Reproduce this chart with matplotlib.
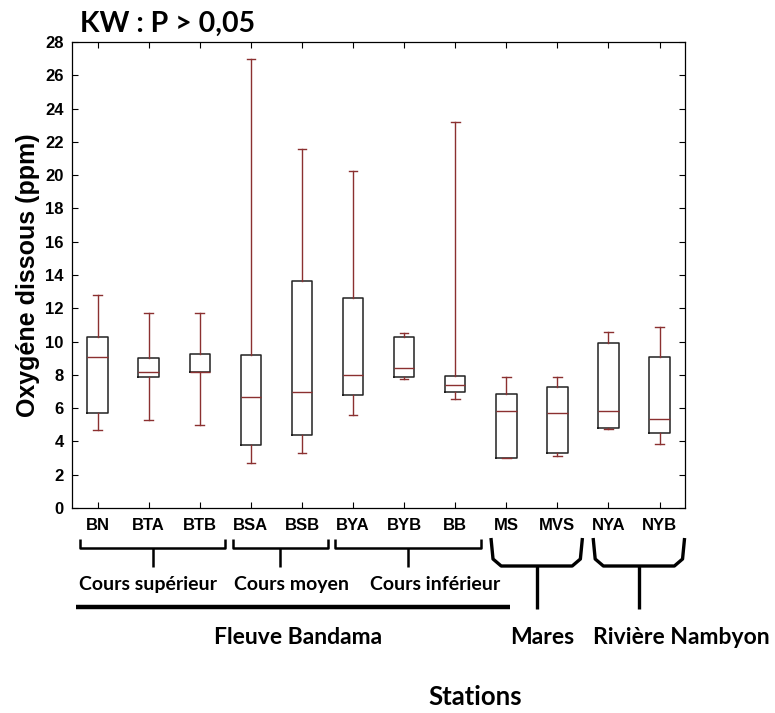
import matplotlib
matplotlib.use("Agg")
import matplotlib.pyplot as plt
import matplotlib.transforms as mtransforms

# ── Data ──────────────────────────────────────────────────────────────────────
stations = ["BN", "BTA", "BTB", "BSA", "BSB", "BYA", "BYB", "BB",
            "MS", "MVS", "NYA", "NYB"]
whisk_lo = [4.7, 5.3, 5.0, 2.7, 3.3, 5.6, 7.75, 6.55, 3.0, 3.15, 4.75, 3.85]
q1       = [5.7, 7.9, 8.15, 3.8, 4.4, 6.8, 7.85, 6.95, 3.0, 3.3, 4.8, 4.5]
median   = [9.05, 8.2, 8.15, 6.65, 6.95, 8.0, 8.4, 7.4, 5.85, 5.7, 5.8, 5.35]
q3       = [10.3, 9.0, 9.25, 9.2, 13.65, 12.65, 10.25, 7.95, 6.85, 7.3, 9.9, 9.05]
whisk_hi = [12.8, 11.7, 11.7, 27.0, 21.6, 20.25, 10.5, 23.2, 7.85, 7.9, 10.55, 10.9]

# sub-groups (first idx, last idx, label) and main groups
sub_groups = [(0, 2, "Cours supérieur"), (3, 4, "Cours moyen"), (5, 7, "Cours inférieur")]
main_groups = [(0, 7, "Fleuve Bandama"), (8, 9, "Mares"), (10, 11, "Rivière Nambyon")]

RED = "#8b3030"
EDGE = "#222222"
TXT_FONT = ["Lato", "DejaVu Sans"]

fig = plt.figure(figsize=(7.75, 7.13), dpi=100)
ax = fig.add_axes([0.093, 0.2875, 0.791, 0.6535])

stats = []
for i in range(len(stations)):
    stats.append({"whislo": whisk_lo[i], "q1": q1[i], "med": median[i],
                  "q3": q3[i], "whishi": whisk_hi[i], "label": stations[i]})

pos = list(range(1, len(stations) + 1))
ax.bxp(stats, positions=pos, widths=0.4, showfliers=False, capwidths=0.17,
       boxprops=dict(color=EDGE, linewidth=1.1),
       medianprops=dict(color=RED, linewidth=1.0),
       whiskerprops=dict(color=RED, linewidth=1.0),
       capprops=dict(color=RED, linewidth=1.0))

ax.set_xlim(0.5, 12.5)
ax.set_ylim(0, 28)
ax.set_yticks(range(0, 29, 2))
ax.set_xticks(pos)
ax.set_xticklabels(stations, fontsize=12, fontweight="bold", family="Liberation Sans")
for lab in ax.get_yticklabels():
    lab.set_fontsize(12)
    lab.set_fontweight("bold")
    lab.set_family("Liberation Sans")
ax.tick_params(direction="in", top=True, right=True, length=4, width=0.8, pad=6)
ax.tick_params(axis="x", pad=7)
for s in ax.spines.values():
    s.set_linewidth(0.9)

ax.set_ylabel("Oxygéne dissous (ppm)", fontsize=18, fontweight="bold",
              family="Liberation Sans", labelpad=4)
ax.text(0.013, 1.012, "KW : P > 0,05", transform=ax.transAxes, fontsize=20.5,
        fontweight="bold", family=TXT_FONT, ha="left", va="bottom")

# ── Brackets under the axis (x in data, y in axes fraction) ──────────────────
tr = mtransforms.blended_transform_factory(ax.transData, ax.transAxes)

def yf(px):
    # pixel row of the image -> axes fraction
    return (508 - px) / 466.0

def line(xs, ys, lw=1.8):
    ax.plot(xs, [yf(y) for y in ys], color="black", lw=lw, transform=tr,
            clip_on=False, solid_capstyle="butt", solid_joinstyle="round")

sub_text_shift = [-0.09, 0.23, 0.53]
for (a, b, lab), dx in zip(sub_groups, sub_text_shift):
    x0, x1 = a + 1 - 0.35, b + 1 + 0.5
    xm = (x0 + x1) / 2
    line([x0, x0, x1, x1], [539, 548, 548, 539])
    line([xm, xm], [548, 567])
    ax.text(xm + dx, yf(584), lab, transform=tr, ha="center", va="center",
            fontsize=14, fontweight="bold", family=TXT_FONT)

# thick line for the river
fa, fb, flab = main_groups[0]
line([fa + 1 - 0.42, fb + 2.07], [607, 607], lw=3.2)
ax.text(4.92, yf(638), flab, transform=tr, ha="center",
        va="center", fontsize=16.5, fontweight="bold", family=TXT_FONT)

main_text_x = [9.70, 12.42]
for (a, b, lab), tx in zip(main_groups[1:], main_text_x):
    x0, x1 = a + 1 - 0.3, b + 1 + 0.49
    xm = (x0 + x1) / 2
    line([x0, x0 + 0.04, x0 + 0.2, x1 - 0.2, x1 - 0.04, x1],
         [538, 559, 566, 566, 559, 538], lw=2.4)
    line([xm, xm], [566, 609], lw=2.4)
    ax.text(tx, yf(638), lab, transform=tr, ha="center", va="center",
            fontsize=16.5, fontweight="bold", family=TXT_FONT)

fig.text(475 / 775, 1 - 697 / 713, "Stations", ha="center", va="center",
         fontsize=18.5, fontweight="bold", family=TXT_FONT)

fig.savefig("out.png", dpi=100, facecolor="white")
